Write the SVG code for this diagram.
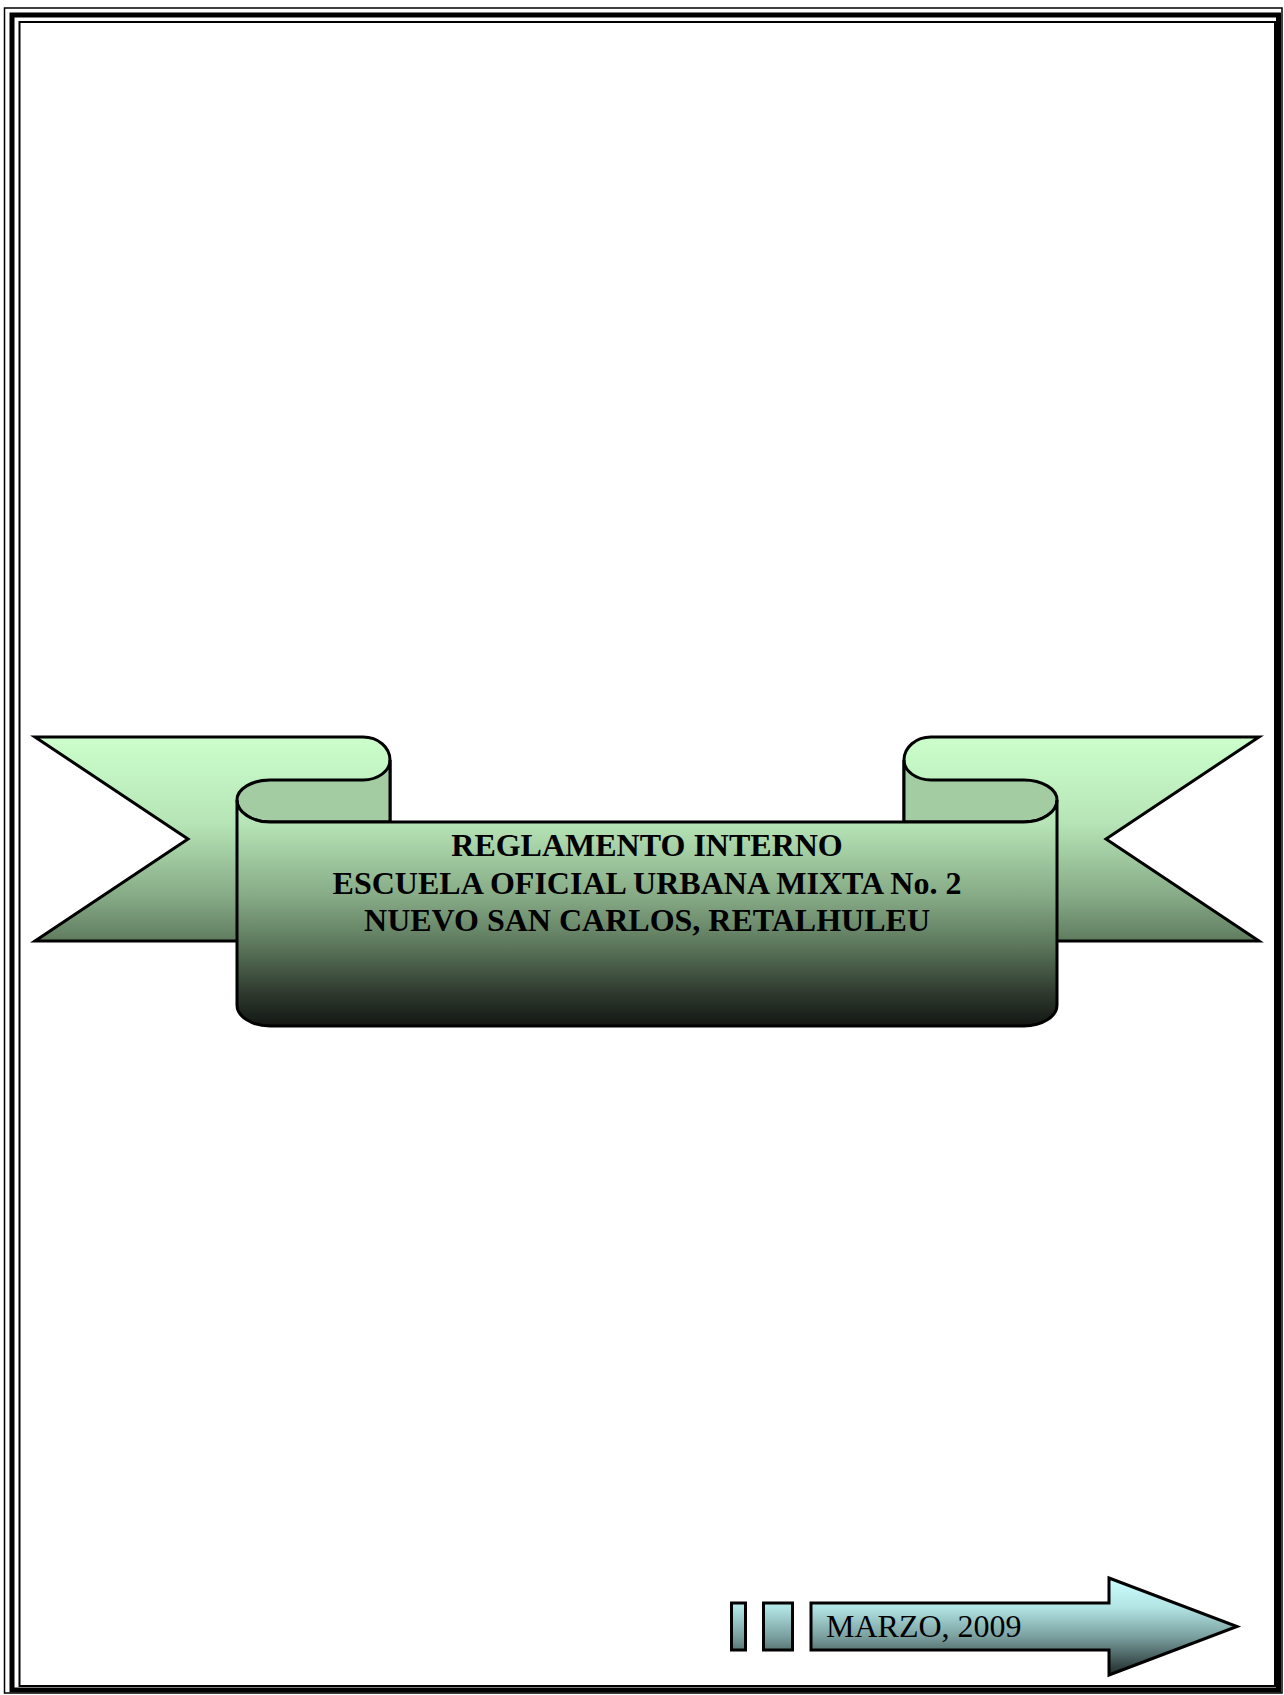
<svg xmlns="http://www.w3.org/2000/svg" width="1284" height="1695" viewBox="0 0 1284 1695">
<defs>
<linearGradient id="gRib" gradientUnits="userSpaceOnUse" x1="0" y1="737" x2="0" y2="1026">
<stop offset="0" stop-color="#ccffcc"/>
<stop offset="0.3" stop-color="#b6e4b6"/>
<stop offset="0.56" stop-color="#84a884"/>
<stop offset="0.72" stop-color="#5c775c"/>
<stop offset="0.88" stop-color="#303c30"/>
<stop offset="1" stop-color="#121612"/>
</linearGradient>
<linearGradient id="gArr" gradientUnits="userSpaceOnUse" x1="0" y1="1578" x2="0" y2="1676">
<stop offset="0" stop-color="#ccffff"/>
<stop offset="0.3" stop-color="#b2e4e4"/>
<stop offset="0.6" stop-color="#7a9f9f"/>
<stop offset="1" stop-color="#1c2626"/>
</linearGradient>
<style>
.frame{fill:none;stroke:#000}
.rib{stroke:#000;stroke-width:3;stroke-linejoin:miter}
.back{fill:#a3cca3;stroke:#000;stroke-width:3}
.title{font-family:"Liberation Serif","Times New Roman",serif;font-weight:bold;font-size:32px;fill:#000;text-anchor:middle}
.arr{fill:url(#gArr);stroke:#000;stroke-width:3}
.date{font-family:"Liberation Serif","Times New Roman",serif;font-size:32px;fill:#000}
</style>
</defs>
<rect width="1284" height="1695" fill="#fff"/>
<g id="border">
<rect class="frame" x="4.5" y="8" width="1277.5" height="1685" stroke-width="1.5" stroke="#444"/>
<rect class="frame" x="12" y="15" width="1266.5" height="1675" stroke-width="5"/>
<rect class="frame" x="19.5" y="22" width="1255.5" height="1664" stroke-width="2"/>
</g>
<g id="ribbon">
<path class="rib" fill="url(#gRib)" d="M35,737 H363 A27,23 0 0 1 390,760 V941 H35 L188,839 Z"/>
<path class="rib" fill="url(#gRib)" d="M1259,737 H931 A27,23 0 0 0 904,760 V941 H1259 L1106,839 Z"/>
<path class="back" d="M237,800 A33,20 0 0 1 270,780 H363 A27,20 0 0 0 390,760 V822 H270 A33,22 0 0 1 237,800 Z"/>
<path class="back" d="M1057,800 A33,20 0 0 0 1024,780 H931 A27,20 0 0 1 904,760 V822 H1024 A33,22 0 0 0 1057,800 Z"/>
<path class="rib" fill="url(#gRib)" d="M237,800 A33,22 0 0 0 270,822 H1024 A33,22 0 0 0 1057,800 V1005 A33,21 0 0 1 1024,1026 H270 A33,21 0 0 1 237,1005 Z"/>
<text class="title" x="647" y="856">REGLAMENTO INTERNO</text>
<text class="title" x="647" y="893.5">ESCUELA OFICIAL URBANA MIXTA No. 2</text>
<text class="title" x="647" y="931">NUEVO SAN CARLOS, RETALHULEU</text>
</g>
<g id="date-arrow">
<rect class="arr" x="731.5" y="1603" width="14" height="47"/>
<rect class="arr" x="763.5" y="1603" width="29" height="47"/>
<path class="arr" d="M811,1603 H1109 V1578 L1237,1626.5 L1109,1675 V1650 H811 Z"/>
<text class="date" x="826" y="1637">MARZO, 2009</text>
</g>
</svg>
